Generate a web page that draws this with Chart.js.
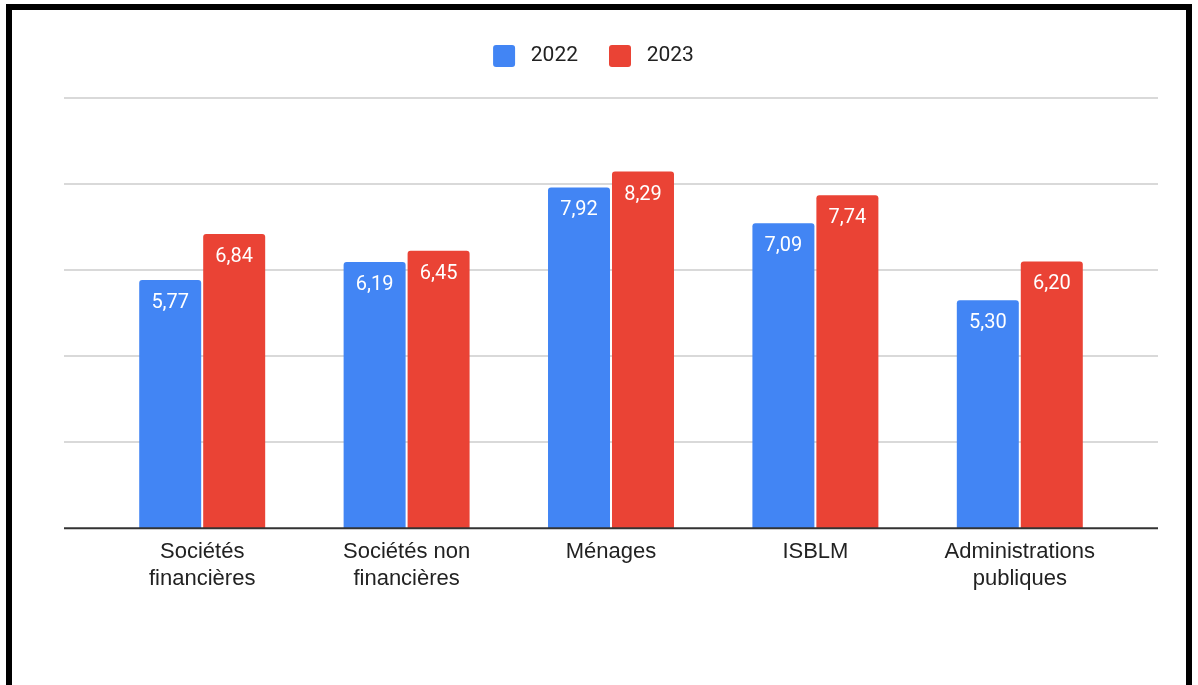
<!DOCTYPE html>
<html>
<head>
<meta charset="utf-8">
<script src="https://cdn.jsdelivr.net/npm/chart.js@4"></script>
<style>
  html, body { margin: 0; padding: 0; background: #fff; overflow: hidden; }
  #wrap { position: relative; width: 1198px; height: 685px; }
  #frame {
    position: absolute; left: 6px; top: 4px; width: 1186px; height: 800px;
    box-sizing: border-box; border: 6px solid #000; border-bottom: none;
  }
  #chart { position: absolute; left: 0; top: 0; }
</style>
</head>
<body>
<div id="wrap">
  <div id="frame"></div>
  <canvas id="chart" width="1198" height="685"></canvas>
</div>
<script>
const categories = [
  ['Sociétés', 'financières'],
  ['Sociétés non', 'financières'],
  'Ménages',
  'ISBLM',
  ['Administrations', 'publiques']
];
const seriesNames = ['2022', '2023'];
const values2022 = [5.77, 6.19, 7.92, 7.09, 5.30];
const values2023 = [6.84, 6.45, 8.29, 7.74, 6.20];
const yTicks = [2, 4, 6, 8, 10];

const BLUE = '#4285F4';
const RED = '#EA4335';
const TEXT = '#222222';

// grid lines run a bit wider than the category area, like the original
const gridLines = {
  id: 'gridLines',
  beforeDatasetsDraw(chart) {
    const {ctx, chartArea, scales} = chart;
    ctx.save();
    ctx.strokeStyle = '#cccccc';
    ctx.lineWidth = 1.5;
    yTicks.forEach(v => {
      const y = Math.round(scales.y.getPixelForValue(v));
      ctx.beginPath();
      ctx.moveTo(chartArea.left - 36, y);
      ctx.lineTo(chartArea.right + 36, y);
      ctx.stroke();
    });
    ctx.restore();
  },
  afterDatasetsDraw(chart) {
    const {ctx, chartArea, scales} = chart;
    const y = scales.y.getPixelForValue(0);
    ctx.save();
    ctx.strokeStyle = '#333333';
    ctx.lineWidth = 2;
    ctx.beginPath();
    ctx.moveTo(chartArea.left - 36, y);
    ctx.lineTo(chartArea.right + 36, y);
    ctx.stroke();
    ctx.restore();
  }
};

const barLabels = {
  id: 'barLabels',
  afterDatasetsDraw(chart) {
    const {ctx} = chart;
    ctx.save();
    ctx.font = '20px Roboto';
    ctx.fillStyle = '#ffffff';
    ctx.textAlign = 'center';
    ctx.textBaseline = 'middle';
    chart.data.datasets.forEach((ds, i) => {
      chart.getDatasetMeta(i).data.forEach((bar, j) => {
        ctx.fillText(ds.data[j].toFixed(2).replace('.', ','), bar.x, bar.y + 23);
      });
    });
    ctx.restore();
  }
};

const legendHeight = {
  id: 'legendHeight',
  beforeInit(chart) {
    const fit = chart.legend.fit;
    chart.legend.fit = function () {
      fit.call(this);
      this.height = 84;
    };
  }
};

const ctx = document.getElementById('chart').getContext('2d');
const chart = new Chart(ctx, {
  type: 'bar',
  data: {
    labels: categories,
    datasets: [
      {label: seriesNames[0], data: values2022, backgroundColor: BLUE},
      {label: seriesNames[1], data: values2023, backgroundColor: RED}
    ]
  },
  options: {
    responsive: false,
    animation: false,
    devicePixelRatio: 1,
    layout: {padding: {left: 65, right: 76, top: 14, bottom: 90}},
    datasets: {
      bar: {
        categoryPercentage: 0.626,
        barPercentage: 0.969,
        borderRadius: 3,
        borderWidth: 0
      }
    },
    plugins: {
      tooltip: {enabled: false},
      legend: {
        position: 'top',
        labels: {
          color: TEXT,
          font: {family: 'Roboto', size: 21},
          boxWidth: 22,
          boxHeight: 22,
          useBorderRadius: true,
          borderRadius: 3,
          padding: 31,
          generateLabels(c) {
            return Chart.defaults.plugins.legend.labels.generateLabels(c)
              .map(item => ({...item, text: ' ' + item.text}));
          }
        }
      }
    },
    scales: {
      x: {
        grid: {display: false},
        border: {display: false},
        ticks: {
          color: TEXT,
          font: {family: 'Liberation Sans', size: 22, lineHeight: 1.2},
          padding: 3,
          maxRotation: 0,
          autoSkip: false
        }
      },
      y: {
        min: 0,
        max: 10,
        grid: {display: false},
        border: {display: false},
        ticks: {display: false, stepSize: 2},
        afterFit(scale) { scale.width = 35; }
      }
    }
  },
  plugins: [gridLines, barLabels, legendHeight]
});
</script>
</body>
</html>
